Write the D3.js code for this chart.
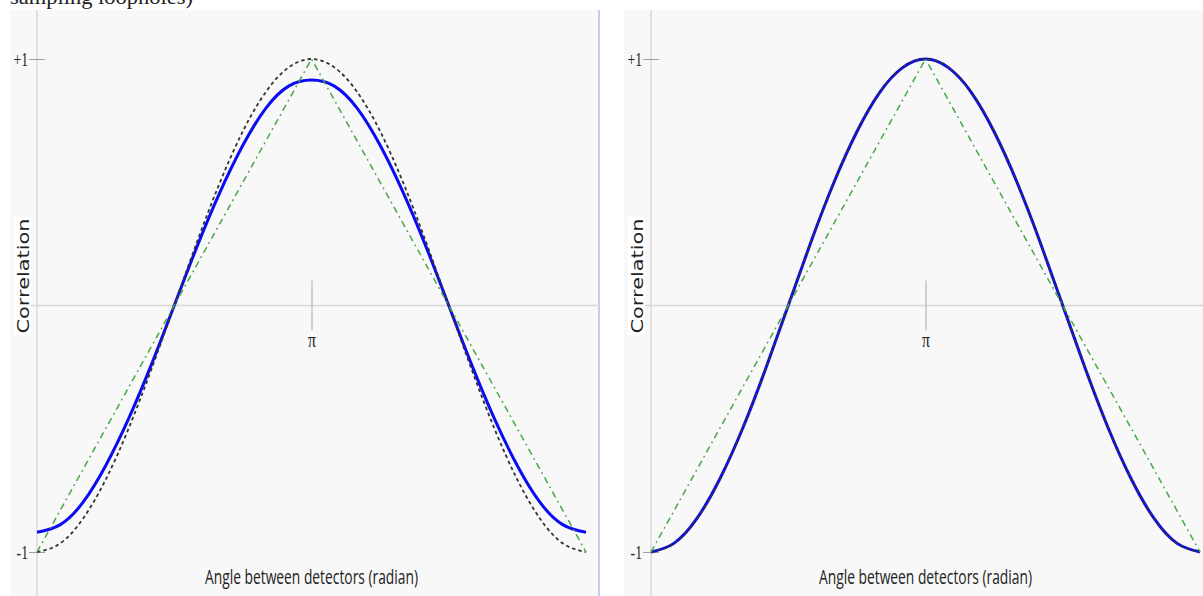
<!DOCTYPE html>
<html>
<head>
<meta charset="utf-8">
<script src="https://cdn.jsdelivr.net/npm/d3@7"></script>
<style>
  body { margin: 0; background: #fff; }
  svg { display: block; }
</style>
</head>
<body>
<svg id="chart" width="1203" height="596"></svg>
<script>
// angles in units of pi/12, 0 .. 2pi
const angleSteps = [0,1,2,3,4,5,6,7,8,9,10,11,12,13,14,15,16,17,18,19,20,21,22,23,24];

// dashed black: quantum prediction
const theory = [-1,-0.966,-0.866,-0.707,-0.5,-0.259,0,0.259,0.5,0.707,0.866,0.966,1,
                0.966,0.866,0.707,0.5,0.259,0,-0.259,-0.5,-0.707,-0.866,-0.966,-1];

// green dash-dot: linear (classical) correlation
const linearSteps = [0, 12, 24];
const linear = [-1, 1, -1];

// blue simulated curves, left and right panel
const simLeft = [-0.92,-0.89,-0.80,-0.65,-0.46,-0.24,0,0.24,0.46,0.65,0.80,0.89,0.915,
                 0.89,0.80,0.65,0.46,0.24,0,-0.24,-0.46,-0.65,-0.80,-0.89,-0.92];
const simRight = [-1,-0.965,-0.865,-0.705,-0.5,-0.26,0,0.26,0.5,0.705,0.865,0.965,1,
                  0.965,0.865,0.705,0.5,0.26,0,-0.26,-0.5,-0.705,-0.865,-0.965,-1];

const yTicks = [-1, 1];
const yTickLabels = ["-1", "+1"];
const xTickLabel = "\u03c0";
const xTitle = "Angle between detectors (radian)";
const yTitle = "Correlation";
const caption = "sampling loopholes)";

const svg = d3.select("#chart");

// squeeze a text horizontally, like the reference screenshot
function squeeze(sel, k) {
  sel.each(function () {
    const w = this.getComputedTextLength();
    d3.select(this).attr("textLength", w * k).attr("lengthAdjust", "spacingAndGlyphs");
  });
}

// caption cut off at the top, as in the reference
svg.append("text")
  .attr("x", 10).attr("y", 4)
  .attr("font-family", "Liberation Serif, serif")
  .attr("font-size", 20)
  .attr("fill", "#222")
  .attr("textLength", 183).attr("lengthAdjust", "spacingAndGlyphs")
  .text(caption);

const panels = [
  { left: 10, right: 599, axisX: 37, sim: simLeft, border: true },
  { left: 624, right: 1203, axisX: 651, sim: simRight, border: false }
];

const y = d3.scaleLinear().domain([-1, 1]).range([552, 59]);

panels.forEach(p => {
  const g = svg.append("g");
  const x = d3.scaleLinear().domain([0, 24]).range([p.axisX, p.axisX + 549]);

  g.append("rect")
    .attr("x", p.left).attr("y", 10)
    .attr("width", p.right - p.left).attr("height", 586)
    .attr("fill", "#f8f8f8");
  if (p.border) {
    g.append("line")
      .attr("x1", p.right).attr("x2", p.right)
      .attr("y1", 10).attr("y2", 596)
      .attr("stroke", "#b9b9f5").attr("stroke-width", 1.5);
  }

  // axis lines
  g.append("line")
    .attr("x1", p.axisX).attr("x2", p.axisX)
    .attr("y1", 10).attr("y2", 596)
    .attr("stroke", "#dadada").attr("stroke-width", 1.5);
  g.append("line")
    .attr("x1", p.axisX - 7).attr("x2", p.right)
    .attr("y1", y(0)).attr("y2", y(0))
    .attr("stroke", "#d6d6d6").attr("stroke-width", 1.5);

  // y axis ticks
  const yAxis = d3.axisLeft(y)
    .tickValues(yTicks)
    .tickFormat((d, i) => yTickLabels[i])
    .tickSize(8).tickPadding(2);
  const ya = g.append("g")
    .attr("transform", `translate(${p.axisX},0)`)
    .call(yAxis);
  ya.select(".domain").remove();
  ya.selectAll(".tick line").attr("x1", 8).attr("x2", -8)
    .attr("stroke", "#a0a0a0");
  ya.selectAll(".tick text")
    .attr("font-family", "Liberation Serif, serif")
    .attr("font-size", 19)
    .attr("fill", "#222")
    .attr("x", -9)
    .attr("dy", "0.34em")
    .call(squeeze, 0.72);

  // pi tick
  const xAxis = d3.axisBottom(x)
    .tickValues([12])
    .tickFormat(() => xTickLabel)
    .tickSize(25).tickPadding(8);
  const xa = g.append("g")
    .attr("transform", `translate(0,${y(0)})`)
    .call(xAxis);
  xa.select(".domain").remove();
  xa.selectAll(".tick line").attr("y1", -25).attr("y2", 25)
    .attr("stroke", "#a8a8a8");
  xa.selectAll(".tick text")
    .attr("font-family", "Liberation Serif, serif")
    .attr("font-size", 21)
    .attr("fill", "#222")
    .attr("y", 29)
    .attr("dy", "0.6em")
    .call(squeeze, 0.75);

  // titles
  g.append("text")
    .attr("x", x(12)).attr("y", 584)
    .attr("text-anchor", "middle")
    .attr("font-family", "Open Sans, sans-serif")
    .attr("font-size", 20)
    .attr("fill", "#222")
    .attr("textLength", 213).attr("lengthAdjust", "spacingAndGlyphs")
    .text(xTitle);

  g.append("rect")
    .attr("x", p.left + 4).attr("y", 217)
    .attr("width", 17).attr("height", 118)
    .attr("fill", "#fff");
  g.append("text")
    .attr("transform", `translate(${p.left + 19},276) scale(0.75,1) rotate(-90)`)
    .attr("text-anchor", "middle")
    .attr("font-family", "DejaVu Sans, sans-serif")
    .attr("font-size", 20)
    .attr("fill", "#222")
    .attr("textLength", 115).attr("lengthAdjust", "spacingAndGlyphs")
    .text(yTitle);

  // curves
  const smooth = d3.line()
    .x((d, i) => x(angleSteps[i]))
    .y(d => y(d))
    .curve(d3.curveNatural);

  g.append("path")
    .attr("d", smooth(p.sim))
    .attr("fill", "none")
    .attr("stroke", "#0a0af5")
    .attr("stroke-width", 3);

  g.append("path")
    .attr("d", smooth(theory))
    .attr("fill", "none")
    .attr("stroke", "#333")
    .attr("stroke-width", 1.8)
    .attr("stroke-dasharray", "3.5,3");

  const straight = d3.line()
    .x((d, i) => x(linearSteps[i]))
    .y(d => y(d));
  g.append("path")
    .attr("d", straight(linear))
    .attr("fill", "none")
    .attr("stroke", "#45a845")
    .attr("stroke-width", 1.5)
    .attr("stroke-dasharray", "6.5,4,1.8,4");
});
</script>
</body>
</html>
